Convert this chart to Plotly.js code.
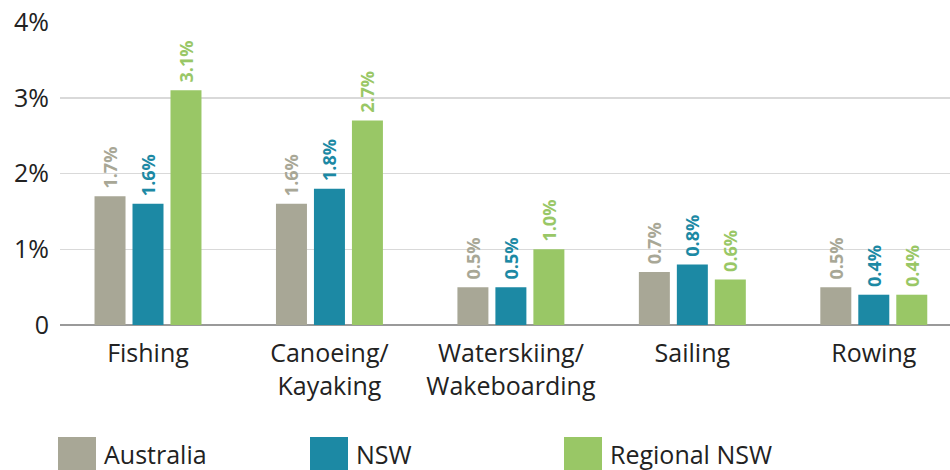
<!DOCTYPE html>
<html><head><meta charset="utf-8">
<script src="https://cdn.plot.ly/plotly-3.0.1.min.js"></script>
<style>body{margin:0;background:#fff}#chart{width:950px;height:470px}</style>
</head><body><div id="chart"></div>
<script>
const categories = ["Fishing", "Canoeing/<br>Kayaking", "Waterskiing/<br>Wakeboarding", "Sailing", "Rowing"];
const seriesNames = ["Australia", "NSW", "Regional NSW"];
const australia = [1.7, 1.6, 0.5, 0.7, 0.5];
const nsw = [1.6, 1.8, 0.5, 0.8, 0.4];
const regionalNsw = [3.1, 2.7, 1.0, 0.6, 0.4];
const yTickVals = [0, 1, 2, 3, 4];
const yTickText = ["0", "1%", "2%", "3%", "4%"];
const colors = ["#A8A796", "#1C89A4", "#99C766"];

const FONT = "'Open Sans', sans-serif";
const values = [australia, nsw, regionalNsw];
const traces = values.map((v, i) => ({
  type: "bar",
  x: categories.map((c, k) => k),
  y: v,
  name: seriesNames[i],
  marker: {color: colors[i]},
  text: v.map(n => "\u00a0" + n.toFixed(1) + "%"),
  textposition: "outside",
  textangle: -90,
  constraintext: "none",
  cliponaxis: false,
  textfont: {family: FONT, size: 18, color: colors[i], weight: 700},
  hoverinfo: "skip",
  showlegend: false
}));

const W = 950, L = 60, R = 0, T = 22, B = 145;
const pw = W - L - R, ph = 470 - T - B;
const px = x => (x - L) / pw;
const py = y => (470 - B - y) / ph;

const legendX = [58, 310, 564];
const shapes = [], annotations = [];
seriesNames.forEach((n, i) => {
  shapes.push({type: "rect", xref: "paper", yref: "paper",
    x0: px(legendX[i]), x1: px(legendX[i] + 38), y0: py(437), y1: py(472),
    fillcolor: colors[i], line: {width: 0}});
  annotations.push({xref: "paper", yref: "paper", x: px(legendX[i] + 44), y: py(454),
    xanchor: "left", yanchor: "middle", text: n, showarrow: false,
    font: {family: FONT, size: 25, color: "#222"}});
});

const layout = {
  width: 950, height: 470,
  margin: {l: L, r: R, t: T, b: B},
  paper_bgcolor: "#fff", plot_bgcolor: "#fff",
  barmode: "group", bargap: 0.372, bargroupgap: 0.184,
  font: {family: FONT, color: "#222"},
  xaxis: {
    tickvals: [0, 1, 2, 3, 4], ticktext: categories,
    range: [-0.485, 4.42], showgrid: false, zeroline: false,
    ticks: "", showline: false, ticklabelstandoff: 11,
    tickfont: {family: FONT, size: 25, color: "#222"}, fixedrange: true
  },
  yaxis: {
    range: [0, 4.001], tickvals: yTickVals, ticktext: yTickText,
    showgrid: true, gridcolor: "#d9d9d9", gridwidth: 1.5,
    zeroline: true, zerolinecolor: "#9a9a9a", zerolinewidth: 2,
    ticks: "", tickfont: {family: FONT, size: 25, color: "#222"},
    ticklabelstandoff: 10, fixedrange: true
  },
  shapes, annotations, showlegend: false
};
Plotly.newPlot("chart", traces, layout, {displayModeBar: false, staticPlot: true});
</script></body></html>
